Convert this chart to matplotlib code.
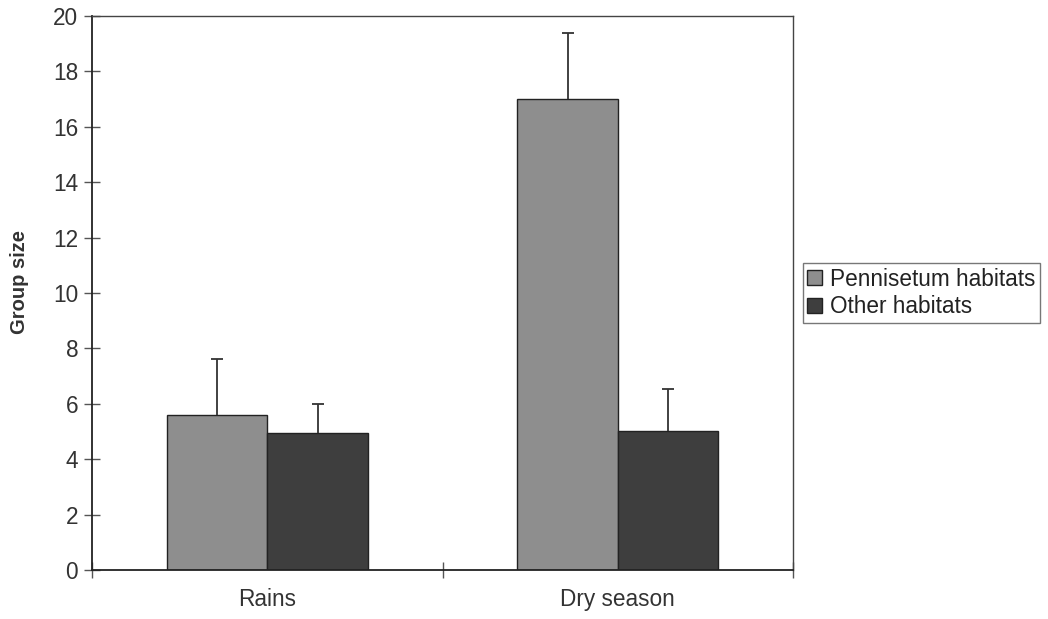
import numpy as np
import matplotlib
matplotlib.use("Agg")
import matplotlib.pyplot as plt

plt.rcParams['font.family'] = ['Liberation Sans', 'DejaVu Sans']

seasons = ['Rains', 'Dry season']
habitats = ['Pennisetum habitats', 'Other habitats']
pennisetum = [5.6, 17.0]
other = [4.95, 5.0]
pennisetum_err = [2.0, 2.38]
other_err = [1.03, 1.55]
colors = ['#8e8e8e', '#3e3e3e']

fig = plt.figure(figsize=(10.48, 6.19), dpi=100)
ax = fig.add_axes([0.0878, 0.0792, 0.669, 0.895])

centers = np.arange(len(seasons)) + 0.5
w = 0.287
zeros = [0, 0]
ekw = dict(ecolor='#333333', elinewidth=1.3, capsize=4, capthick=1.3)
b1 = ax.bar(centers - w / 2, pennisetum, w, color=colors[0], edgecolor='#222222',
            linewidth=1.0, label=habitats[0], yerr=[zeros, pennisetum_err], error_kw=ekw)
b2 = ax.bar(centers + w / 2, other, w, color=colors[1], edgecolor='#222222',
            linewidth=1.0, label=habitats[1], yerr=[zeros, other_err], error_kw=ekw)
# upper error only: hide the cap sitting on the bar top
for b in (b1, b2):
    b.errorbar.lines[1][0].set_visible(False)

ax.set_xlim(0, 2)
ax.set_ylim(0, 20)
ax.set_yticks(np.arange(0, 21, 2))
ax.set_xticks([0, 1, 2])
ax.set_xticklabels([])
ax.set_xticks(centers, minor=True)
ax.set_xticklabels(seasons, minor=True)
ax.tick_params(axis='x', which='minor', length=0, pad=13, labelsize=16.3, labelcolor='#333333')
ax.tick_params(axis='x', which='major', direction='inout', length=12, width=1, color='#555555')
ax.tick_params(axis='y', direction='inout', length=12, width=1, color='#555555',
               labelsize=16.3, labelcolor='#333333', pad=4)

for side in ['left', 'bottom']:
    ax.spines[side].set_linewidth(1.3)
    ax.spines[side].set_color('#222222')
for side in ['top', 'right']:
    ax.spines[side].set_linewidth(1.0)
    ax.spines[side].set_color('#444444')

ax.set_ylabel('Group size', fontsize=14.5, fontweight='bold', color='#333333')
ax.yaxis.set_label_coords(-0.09, 0.52)

leg = ax.legend(loc='center left', bbox_to_anchor=(1.014, 0.5), fontsize=16.3,
                frameon=True, fancybox=False, edgecolor='#555555', borderpad=0.2,
                handlelength=0.65, handleheight=0.65, handletextpad=0.35, labelspacing=0.2,
                borderaxespad=0)
leg.get_frame().set_linewidth(1.0)
for t in leg.get_texts():
    t.set_color('#222222')

fig.savefig('out.png', dpi=100)
